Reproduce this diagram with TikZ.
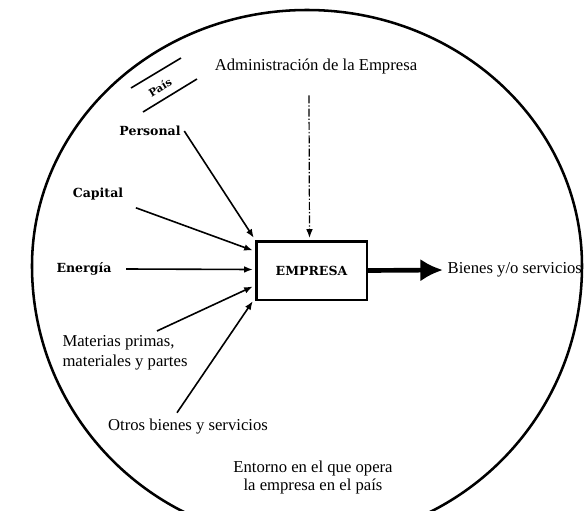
\documentclass[tikz,border=0pt]{standalone}
\usepackage{fontspec}
\setmainfont{Liberation Serif}
\newfontfamily\labelfont{DejaVu Serif}
\usetikzlibrary{arrows.meta,calc}

\begin{document}
\begin{tikzpicture}[x=0.75pt,y=-0.75pt]
% y is negative so the coordinates follow the pixels of the scan

% style
\tikzset{
    every node/.style={font=\fontsize{12.5}{15}\selectfont},
    boldLabel/.style={font=\labelfont\bfseries\fontsize{9.4}{11}\selectfont},
    baseLine/.style={draw, line width=1.2pt},
    arrowLine/.style={baseLine, -{Latex[length=6.5pt, width=5pt]}},
    dashArrow/.style={arrowLine, line width=0.9pt, dash pattern=on 6pt off 1.5pt on 1pt off 1.5pt},
    outArrow/.style={draw, line width=3.5pt, -{Latex[length=17pt, width=17pt]}},
    boxLine/.style={draw, line width=2pt, minimum width=83pt, minimum height=44pt}
}

\useasboundingbox (0,0) rectangle (587,511);
\clip (0,0) rectangle (587,511);

% environment
\draw[line width=1.9pt] (32,266)
    arc[start angle=180, end angle=360, x radius=275, y radius=256]
    arc[start angle=0, end angle=180, radius=275];

% labels
\node (admin) at (316,66) {Administración de la Empresa};
\node[boldLabel, font=\labelfont\bfseries\fontsize{8}{9}\selectfont, rotate=31, inner sep=0.5pt] (pais) at (160,87.5) {País};
\draw[baseLine] (131,88) -- (181,58);
\draw[baseLine] (143,112) -- (197,79);

\node[boldLabel] (personal) at (150,131) {Personal};
\node[boldLabel] (capital) at (98,194) {Capital};
\node[boldLabel] (energia) at (84,269) {Energía};
\node[align=left] (materias) at (125,353) {Materias primas,\\materiales y partes};
\node (otros) at (188,427) {Otros bienes y servicios};
\node[align=center, font=\fontsize{12.5}{13.5}\selectfont] (entorno) at (313,477) {Entorno en el que opera\\la empresa en el país};

% box
\node[boxLine, boldLabel] (empresa) at (311.5,270.5) {EMPRESA};
\node[anchor=west] (bienes) at (443,270) {Bienes y/o servicios};

% arrows
\draw[arrowLine] ($(personal.east)+(-1,0)$) -- ($(empresa.north west)+(-1,-2)$);
\draw[arrowLine] ($(capital.south east)+(8,3)$) -- ($(empresa.west)+(-2,-20)$);
\draw[arrowLine] ($(energia.east)+(10,0)$) -- ($(empresa.west)+(-2,-1)$);
\draw[arrowLine] ($(materias.north)+(32,0)$) -- ($(empresa.west)+(-2,16)$);
\draw[arrowLine] ($(otros.north)+(-11,-2)$) -- ($(empresa.south west)+(-2,0)$);
\draw[dashArrow] ($(admin.south)+(-7,17)$) -- ($(empresa.north)+(-2,-2)$);
\draw[outArrow] (empresa.east) -- (bienes.west);

\end{tikzpicture}
\end{document}
